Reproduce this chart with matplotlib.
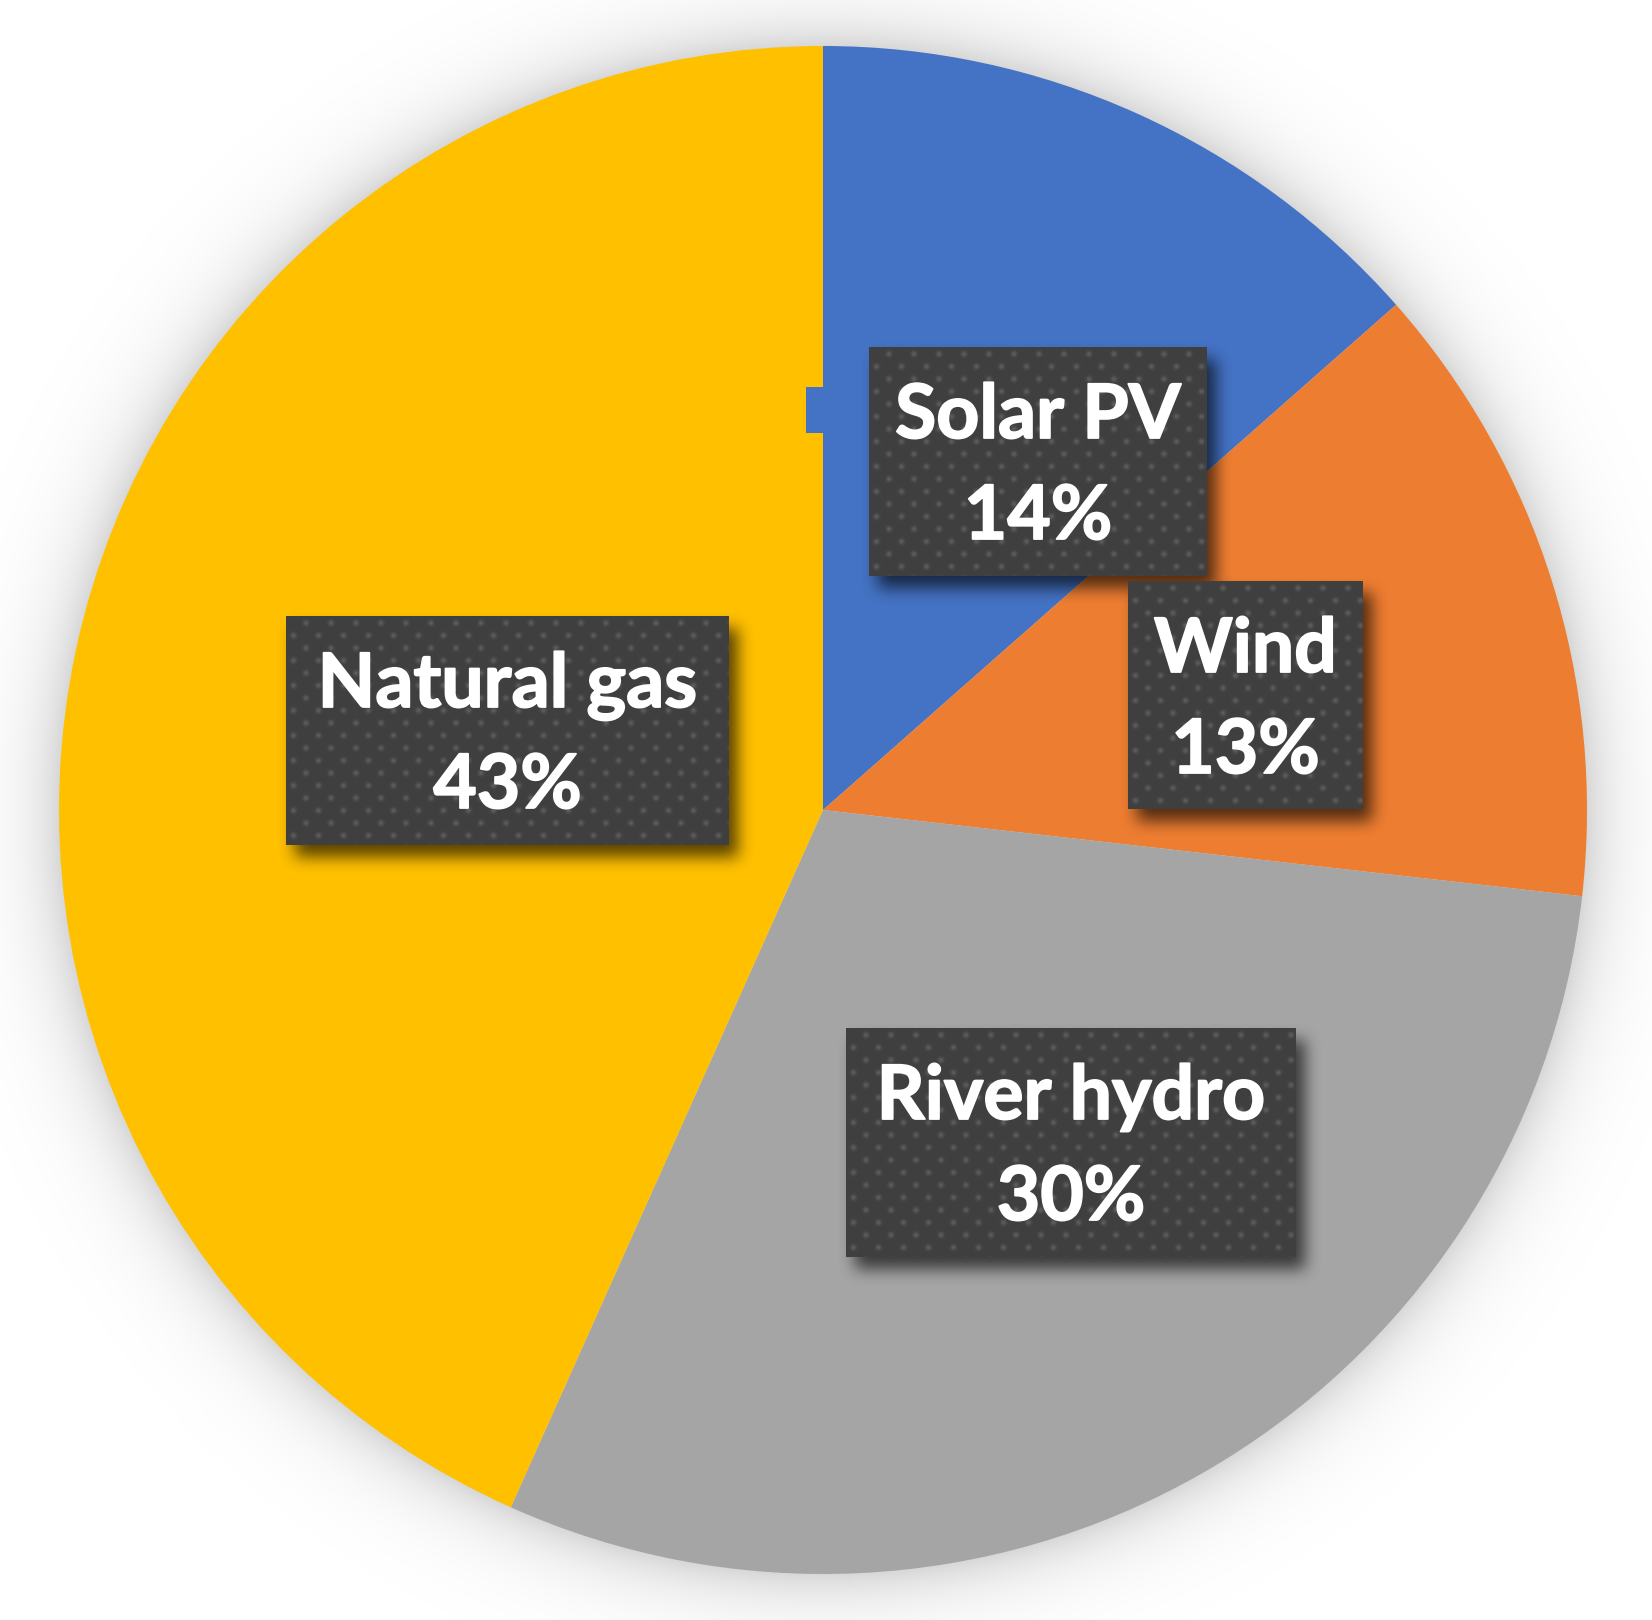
import numpy as np
import matplotlib
matplotlib.use('Agg')
import matplotlib.pyplot as plt
import matplotlib.patheffects as pe
from matplotlib.patches import Rectangle

# ---------------- data ----------------
categories = ['Solar PV', 'Wind', 'River hydro', 'Natural gas']
shares = [13.5, 13.3, 29.9, 43.3]
colors = ['#4472C4', '#ED7D31', '#A5A5A5', '#FFC000']

# ---------------- layout (image pixel coords, y down) ----------------
W, H = 1652, 1620
CX, CY_IMG, R = 823, 810, 764
# label boxes: (left, top, width, height)
label_boxes = [(869, 347, 338, 229), (1128, 581, 235, 228),
               (846, 1028, 450, 229), (286, 616, 443, 229)]
FONT = 'Lato'
FS = 54


def Y(y):
    return H - y


def blur(a, r, passes=3):
    k = np.ones(2 * r + 1) / (2 * r + 1)
    for _ in range(passes):
        a = np.apply_along_axis(lambda m: np.convolve(m, k, mode='same'), 0, a)
        a = np.apply_along_axis(lambda m: np.convolve(m, k, mode='same'), 1, a)
    return a


def texture(w, h):
    yy, xx = np.mgrid[0:h, 0:w].astype(float) + 0.5
    img = np.full((h, w), 63.0)
    sx, sy = 25.0, 12.5
    row = np.round((yy - 7) / sy)
    cy = 7 + row * sy
    off = np.where(row % 2 == 0, 20.0, 7.5)
    cx = off + np.round((xx - off) / sx) * sx
    d2 = (xx - cx) ** 2 + (yy - cy) ** 2
    img += 30 * np.exp(-d2 / (2 * 2.0 ** 2))
    img = np.clip(img, 0, 255) / 255.0
    return np.dstack([img, img, img])


fig = plt.figure(figsize=(W / 100, H / 100), dpi=100)
ax = fig.add_axes([0, 0, 1, 1])

# soft shadow around the pie
yy, xx = np.mgrid[0:H, 0:W].astype(float) + 0.5
d = np.sqrt((xx - CX) ** 2 + (yy - CY_IMG) ** 2) - R
alpha = np.where(d < 0, 0.16, 0.16 * np.exp(-np.clip(d, 0, None) / 33.0))
sh = np.zeros((H, W, 4))
sh[..., 3] = alpha
ax.imshow(sh, extent=(0, W, 0, H), origin='upper', zorder=0, interpolation='nearest')

# pie
wedges, _ = ax.pie(shares, colors=colors, startangle=90, counterclock=False,
                   center=(CX, Y(CY_IMG)), radius=R,
                   wedgeprops=dict(linewidth=0, antialiased=True))
for w_ in wedges:
    w_.set_zorder(1)

# small leader tab of the solar label
ax.add_patch(Rectangle((CX - 17, Y(433)), 17, 46, facecolor=colors[0],
                       edgecolor='none', zorder=2))

# labels
stroke = [pe.withStroke(linewidth=1.3, foreground='white')]
for cat, val, (l, t, w, h) in zip(categories, shares, label_boxes):
    m = 50
    dx, dy = 9, 12
    a = np.zeros((h + 2 * m, w + 2 * m))
    a[m + dy:m + dy + h, m + dx:m + dx + w] = 1.0
    a = blur(a, 7) * 0.65
    s = np.zeros(a.shape + (4,))
    s[..., 3] = a
    ax.imshow(s, extent=(l - m, l + w + m, Y(t + h + m), Y(t - m)),
              origin='upper', zorder=3, interpolation='bilinear')
    ax.imshow(texture(w, h), extent=(l, l + w, Y(t + h), Y(t)),
              origin='upper', zorder=4, interpolation='bilinear')
    cxb = l + w / 2
    ax.text(cxb, Y(t + 91), cat, ha='center', va='baseline', color='white',
            fontsize=FS, fontweight='bold', family=FONT, zorder=5,
            path_effects=stroke)
    ax.text(cxb, Y(t + 192), f"{int(val + 0.5)}%", ha='center', va='baseline',
            color='white', fontsize=FS, fontweight='bold', family=FONT, zorder=5,
            path_effects=stroke)

ax.set_xlim(0, W)
ax.set_ylim(0, H)
ax.set_aspect('auto')
ax.axis('off')
fig.savefig('out.png', dpi=100, facecolor='white')
